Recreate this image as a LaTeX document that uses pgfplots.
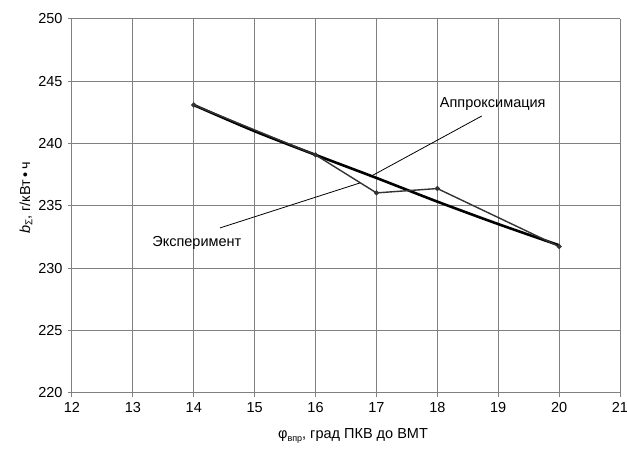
\documentclass[border=0pt]{standalone}
\usepackage{pgfplots}
\pgfplotsset{compat=1.18}
\usepackage{fontspec}
\setmainfont{Liberation Sans}
\begin{document}
\begin{tikzpicture}
\begin{axis}[
  name=ax,
  scale only axis,
  width=548pt, height=374pt,
  xmin=12, xmax=21, ymin=220, ymax=250,
  xtick={12,...,21}, ytick={220,225,...,250},
  grid=major,
  grid style={black!50, line width=1pt},
  axis line style={black!50, line width=1pt},
  tick style={black!50, line width=1pt},
  tick align=outside,
  major tick length=4pt,
  axis x line*=bottom, axis y line*=left,
  /pgf/number format/assume math mode=true,
  /pgf/number format/1000 sep={},
  tick label style={font=\fontsize{14.5}{16}\selectfont},
  xticklabel style={yshift=-2pt},
  yticklabel style={xshift=-2pt},
  clip=false,
]
\addplot[black, line width=2.6pt, smooth] coordinates {
  (14,243.1) (15,241.0) (16,239.1) (17,237.25) (18,235.35) (19,233.55) (20,231.85)
};
\addplot[black!80, line width=1.4pt, mark=*, mark size=1.8pt] coordinates {
  (14,243.1) (16,239.1) (17,236.05) (18,236.4) (20,231.75)
};
\draw[black, line width=0.8pt] (axis cs:18.73,242.22) -- (axis cs:16.89,237.33);
\draw[black, line width=0.8pt] (axis cs:14.43,233.24) -- (axis cs:16.73,236.85);
\node[font=\fontsize{14.5}{16}\selectfont] at (axis cs:18.91,243.18) {Аппроксимация};
\node[font=\fontsize{14.5}{16}\selectfont] at (axis cs:14.05,232.04) {Эксперимент};
\end{axis}
\node[font=\fontsize{14.5}{16}\selectfont] at ([shift={(281pt,-43pt)}]ax.south west)
  {φ\raisebox{-0.3ex}{\fontsize{9}{10}\selectfont впр}, град ПКВ до ВМТ};
\node[font=\fontsize{14.5}{16}\selectfont, rotate=90] at ([shift={(-46pt,195pt)}]ax.south west)
  {\textit{b}\raisebox{-0.3ex}{\fontsize{10}{11}\selectfont Σ}, г/кВт\,•\,ч};
\pgfresetboundingbox
\path ([shift={(-72pt,-63pt)}]ax.south west) rectangle ([shift={(7pt,19pt)}]ax.north east);
\end{tikzpicture}
\end{document}
